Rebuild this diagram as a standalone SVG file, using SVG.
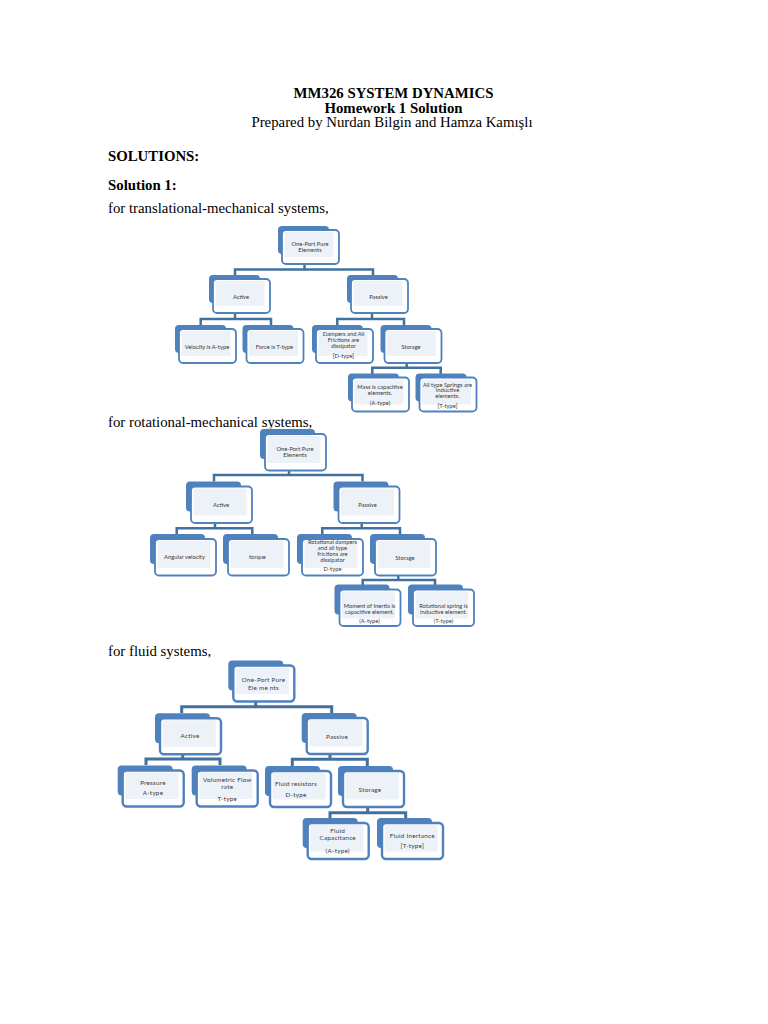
<svg xmlns="http://www.w3.org/2000/svg" width="768" height="1024" viewBox="0 0 768 1024">
<style>
.bg{fill:#fff}
.h{font-family:"Liberation Serif","Times New Roman",serif;font-size:14.8px;fill:#000}
.b{font-weight:bold}
.c{text-anchor:middle}
.back{fill:#4f81bd}
.front{fill:#fff;stroke:#4f81bd;stroke-width:1.8}
.inner{fill:#edf1f8}
.conn{fill:none;stroke:#41719c;stroke-width:2.5;stroke-linejoin:miter}
.lbl{font-family:Lato,"Liberation Sans",sans-serif;fill:#3a3a3a;text-anchor:middle;dominant-baseline:central}
.s1{font-size:5.8px}
.s2{font-size:5.8px}
.s3{font-size:6.3px;letter-spacing:0.25px}
</style>
<rect class="bg" x="0" y="0" width="768" height="1024"/>

<g id="header">
<text class="h b c" x="393.5" y="98">MM326 SYSTEM DYNAMICS</text>
<text class="h b c" x="393.5" y="112.5">Homework 1 Solution</text>
<text class="h c" x="392" y="126.5">Prepared by Nurdan Bilgin and Hamza Kamışlı</text>
<text class="h b" x="108" y="161">SOLUTIONS:</text>
<text class="h b" x="108" y="190">Solution 1:</text>
<text class="h" x="108" y="213">for translational-mechanical systems,</text>
<text class="h" x="108" y="427">for rotational-mechanical systems,</text>
<text class="h" x="108" y="656">for fluid systems,</text>
</g>

<!-- Connectors -->
<g id="connectors">
<!-- tree 1 -->
<path class="conn" d="M304.5,264 V269.5 M235,276 V269.5 H373 V276"/>
<path class="conn" d="M235,313 V319 M200.7,325 V319 H271 V325"/>
<path class="conn" d="M372,313 V319 M337.3,325 V319 H404 V325"/>
<path class="conn" d="M406.7,363 V367.7 M372.3,374 V367.7 H440.7 V374"/>
<!-- tree 2 -->
<path class="conn" d="M289,470.5 V475 M214,481.5 V475 H362.5 V481.5"/>
<path class="conn" d="M215,523 V528.3 M176.7,534 V528.3 H252.3 V534"/>
<path class="conn" d="M361.7,523 V528.3 M322.3,534 V528.3 H400 V534"/>
<path class="conn" d="M398.3,575.5 V580 M362.7,585 V580 H435 V585"/>
<!-- tree 3 -->
<path class="conn" style="stroke-width:3" d="M255.7,701.5 V706.7 M181.7,713 V706.7 H331.7 V713"/>
<path class="conn" style="stroke-width:3" d="M182.7,754.3 V759 M146,765 V759 H220 V765"/>
<path class="conn" style="stroke-width:3" d="M330,754 V759.3 M292.3,766 V759.3 H367.3 V766"/>
<path class="conn" style="stroke-width:3" d="M367.7,807 V812.7 M330,818 V812.7 H405.7 V818"/>
</g>

<!-- Tree 1: translational -->
<g id="t1-root">
<rect class="back" x="278" y="226" width="51" height="28" rx="4"/>
<rect class="front" x="282" y="230" width="57" height="34" rx="4"/>
<rect class="inner" x="284.5" y="232" width="49" height="25"/>
<text class="lbl s1" x="310" y="243.5">One-Port Pure</text>
<text class="lbl s1" x="310" y="249.7">Elements</text>
</g>
<g id="t1-active">
<rect class="back" x="209" y="275" width="51" height="28" rx="4"/>
<rect class="front" x="213" y="279" width="57" height="34" rx="4"/>
<rect class="inner" x="215.5" y="281" width="49" height="25"/>
<text class="lbl s1" x="241" y="296">Active</text>
</g>
<g id="t1-passive">
<rect class="back" x="347" y="275" width="51" height="28" rx="4"/>
<rect class="front" x="351" y="279" width="57" height="34" rx="4"/>
<rect class="inner" x="353.5" y="281" width="49" height="25"/>
<text class="lbl s1" x="378.5" y="296">Passive</text>
</g>
<g id="t1-velocity">
<rect class="back" x="175" y="325" width="51" height="28" rx="4"/>
<rect class="front" x="179" y="329" width="57" height="34" rx="4"/>
<rect class="inner" x="181.5" y="331" width="49" height="25"/>
<text class="lbl s1" x="207" y="346">Velocity is A-type</text>
</g>
<g id="t1-force">
<rect class="back" x="242.5" y="325" width="51" height="28" rx="4"/>
<rect class="front" x="246.5" y="329" width="57" height="34" rx="4"/>
<rect class="inner" x="249" y="331" width="49" height="25"/>
<text class="lbl s1" x="274.5" y="346">Force is T-type</text>
</g>
<g id="t1-dampers">
<rect class="back" x="312" y="325" width="51" height="28" rx="4"/>
<rect class="front" x="316" y="329" width="57" height="34" rx="4"/>
<rect class="inner" x="318.5" y="331" width="49" height="25"/>
<text class="lbl s1" x="343.5" y="333.5">Dampers and All</text>
<text class="lbl s1" x="343.5" y="339.5">Frictions are</text>
<text class="lbl s1" x="343.5" y="345.5">dissipator</text>
<text class="lbl s1" x="343.5" y="355.5">[D-type]</text>
</g>
<g id="t1-storage">
<rect class="back" x="380.5" y="325" width="51" height="28" rx="4"/>
<rect class="front" x="384.5" y="329" width="57" height="34" rx="4"/>
<rect class="inner" x="387" y="331" width="49" height="25"/>
<text class="lbl s1" x="411" y="346">Storage</text>
</g>
<g id="t1-mass">
<rect class="back" x="348" y="373.5" width="51" height="28" rx="4"/>
<rect class="front" x="352" y="377.5" width="57" height="34" rx="4"/>
<rect class="inner" x="354.5" y="379.5" width="49" height="25"/>
<text class="lbl s1" x="380" y="386">Mass is capacitive</text>
<text class="lbl s1" x="380" y="392.5">elements.</text>
<text class="lbl s1" x="380" y="402.5">(A-type)</text>
</g>
<g id="t1-springs">
<rect class="back" x="415.5" y="373.5" width="51" height="28" rx="4"/>
<rect class="front" x="419.5" y="377.5" width="57" height="34" rx="4"/>
<rect class="inner" x="422" y="379.5" width="49" height="25"/>
<text class="lbl s1" x="447.5" y="384">All type Springs are</text>
<text class="lbl s1" x="447.5" y="389.7">inductive</text>
<text class="lbl s1" x="447.5" y="395.4">elements.</text>
<text class="lbl s1" x="447.5" y="405">[T-type]</text>
</g>

<!-- Tree 2: rotational -->
<g id="t2-root">
<rect class="back" x="260" y="429" width="55" height="30" rx="4"/>
<rect class="front" x="265" y="434" width="61" height="36.5" rx="4"/>
<rect class="inner" x="267.5" y="436" width="53" height="27"/>
<text class="lbl s2" x="295" y="448.3">One-Port Pure</text>
<text class="lbl s2" x="295" y="454.7">Elements</text>
</g>
<g id="t2-active">
<rect class="back" x="186" y="481.5" width="55" height="30" rx="4"/>
<rect class="front" x="191" y="486.5" width="61" height="36.5" rx="4"/>
<rect class="inner" x="193.5" y="488.5" width="53" height="27"/>
<text class="lbl s2" x="221" y="504">Active</text>
</g>
<g id="t2-passive">
<rect class="back" x="333.5" y="481.5" width="55" height="30" rx="4"/>
<rect class="front" x="338.5" y="486.5" width="61" height="36.5" rx="4"/>
<rect class="inner" x="341" y="488.5" width="53" height="27"/>
<text class="lbl s2" x="367.5" y="504">Passive</text>
</g>
<g id="t2-angular">
<rect class="back" x="150" y="534" width="55" height="30" rx="4"/>
<rect class="front" x="155" y="539" width="61" height="36.5" rx="4"/>
<rect class="inner" x="157.5" y="541" width="53" height="27"/>
<text class="lbl s2" x="184.5" y="556.5">Angular velocity</text>
</g>
<g id="t2-torque">
<rect class="back" x="223" y="534" width="55" height="30" rx="4"/>
<rect class="front" x="228" y="539" width="61" height="36.5" rx="4"/>
<rect class="inner" x="230.5" y="541" width="53" height="27"/>
<text class="lbl s2" x="257.5" y="556.5">torque</text>
</g>
<g id="t2-dampers">
<rect class="back" x="297" y="534" width="55" height="30" rx="4"/>
<rect class="front" x="302" y="539" width="61" height="36.5" rx="4"/>
<rect class="inner" x="304.5" y="541" width="53" height="27"/>
<text class="lbl s2" x="332.5" y="541.5">Rotational dampers</text>
<text class="lbl s2" x="332.5" y="547.2">and  all type</text>
<text class="lbl s2" x="332.5" y="553.2">frictions are</text>
<text class="lbl s2" x="332.5" y="559.7">dissipator</text>
<text class="lbl s2" x="332.5" y="568.5">D-type</text>
</g>
<g id="t2-storage">
<rect class="back" x="370" y="534" width="55" height="30" rx="4"/>
<rect class="front" x="375" y="539" width="61" height="36.5" rx="4"/>
<rect class="inner" x="377.5" y="541" width="53" height="27"/>
<text class="lbl s2" x="405" y="557">Storage</text>
</g>
<g id="t2-moment">
<rect class="back" x="334.5" y="584.5" width="55" height="30" rx="4"/>
<rect class="front" x="339.5" y="589.5" width="61" height="36.5" rx="4"/>
<rect class="inner" x="342" y="591.5" width="53" height="27"/>
<text class="lbl s2" x="369.5" y="605">Moment of Inertia is</text>
<text class="lbl s2" x="369.5" y="611.2">capacitive element.</text>
<text class="lbl s2" x="369.5" y="620">(A-type)</text>
</g>
<g id="t2-spring">
<rect class="back" x="408" y="584.5" width="55" height="30" rx="4"/>
<rect class="front" x="413" y="589.5" width="61" height="36.5" rx="4"/>
<rect class="inner" x="415.5" y="591.5" width="53" height="27"/>
<text class="lbl s2" x="443.5" y="605">Rotational spring is</text>
<text class="lbl s2" x="443.5" y="611.2">inductive element.</text>
<text class="lbl s2" x="443.5" y="620">(T-type)</text>
</g>

<!-- Tree 3: fluid -->
<g id="t3-root">
<rect class="back" x="228.3" y="660.5" width="55" height="30" rx="4"/>
<rect class="front" x="233.3" y="665.5" width="61" height="36" rx="4" style="stroke-width:2.4"/>
<rect class="inner" x="236" y="667.5" width="53" height="26.5"/>
<text class="lbl s3" x="263.5" y="679.5">One-Port Pure</text>
<text class="lbl s3" x="263.5" y="687.5">Ele me nts</text>
</g>
<g id="t3-active">
<rect class="back" x="155" y="713.3" width="55" height="30" rx="4"/>
<rect class="front" x="160" y="718.3" width="61" height="36" rx="4" style="stroke-width:2.4"/>
<rect class="inner" x="162.7" y="720.3" width="53" height="26.5"/>
<text class="lbl s3" x="190" y="735.5">Active</text>
</g>
<g id="t3-passive">
<rect class="back" x="301.7" y="713" width="55" height="30" rx="4"/>
<rect class="front" x="306.7" y="718" width="61" height="36" rx="4" style="stroke-width:2.4"/>
<rect class="inner" x="309.4" y="720" width="53" height="26.5"/>
<text class="lbl s3" x="337" y="736">Passive</text>
</g>
<g id="t3-pressure">
<rect class="back" x="117.7" y="765.5" width="55" height="30" rx="4"/>
<rect class="front" x="122.7" y="770.5" width="61" height="36" rx="4" style="stroke-width:2.4"/>
<rect class="inner" x="125.4" y="772.5" width="53" height="26.5"/>
<text class="lbl s3" x="153" y="782.7">Pressure</text>
<text class="lbl s3" x="153" y="792.7">A-type</text>
</g>
<g id="t3-volumetric">
<rect class="back" x="191.7" y="765.5" width="55" height="30" rx="4"/>
<rect class="front" x="196.7" y="770.5" width="61" height="36" rx="4" style="stroke-width:2.4"/>
<rect class="inner" x="199.4" y="772.5" width="53" height="26.5"/>
<text class="lbl s3" x="227.3" y="779">Volumetric Flow</text>
<text class="lbl s3" x="227.3" y="786.7">rate</text>
<text class="lbl s3" x="227.3" y="798.3">T-type</text>
</g>
<g id="t3-resistors">
<rect class="back" x="265" y="766" width="55" height="30" rx="4"/>
<rect class="front" x="270" y="771" width="61" height="36" rx="4" style="stroke-width:2.4"/>
<rect class="inner" x="272.7" y="773" width="53" height="26.5"/>
<text class="lbl s3" x="296" y="783.3">Fluid resistors</text>
<text class="lbl s3" x="296" y="794.3">D-type</text>
</g>
<g id="t3-storage">
<rect class="back" x="338" y="766" width="55" height="30" rx="4"/>
<rect class="front" x="343" y="771" width="61" height="36" rx="4" style="stroke-width:2.4"/>
<rect class="inner" x="345.7" y="773" width="53" height="26.5"/>
<text class="lbl s3" x="370" y="789.3">Storage</text>
</g>
<g id="t3-capacitance">
<rect class="back" x="302.7" y="818" width="55" height="30" rx="4"/>
<rect class="front" x="307.7" y="823" width="61" height="36" rx="4" style="stroke-width:2.4"/>
<rect class="inner" x="310.4" y="825" width="53" height="26.5"/>
<text class="lbl s3" x="337.7" y="830">Fluid</text>
<text class="lbl s3" x="337.7" y="837.7">Capacitance</text>
<text class="lbl s3" x="337.7" y="850">(A-type)</text>
</g>
<g id="t3-inertance">
<rect class="back" x="377" y="818" width="55" height="30" rx="4"/>
<rect class="front" x="382" y="823" width="61" height="36" rx="4" style="stroke-width:2.4"/>
<rect class="inner" x="384.7" y="825" width="53" height="26.5"/>
<text class="lbl s3" x="412.3" y="835">Fluid Inertance</text>
<text class="lbl s3" x="412.3" y="845.7">[T-type]</text>
</g>
</svg>
